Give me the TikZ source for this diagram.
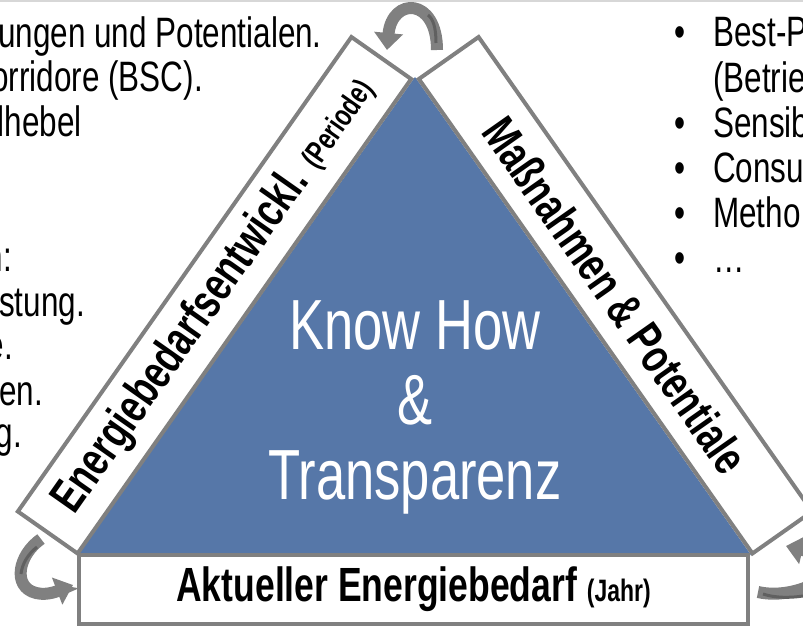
\documentclass[tikz,border=0pt]{standalone}
\usepackage{fontspec}
\setmainfont{Liberation Sans}[FakeStretch=0.74]
\usetikzlibrary{arrows.meta,positioning}
\definecolor{knowblue}{RGB}{86,119,168}
\definecolor{framegray}{RGB}{128,128,128}
\definecolor{arrowshade}{RGB}{96,96,96}
\definecolor{slidegray}{RGB}{215,215,215}
\newcommand{\smallpart}[1]{{\fontsize{31}{32}\selectfont #1}}

\begin{document}
\begin{tikzpicture}[x=1pt,y=1pt,
    band/.style={draw=framegray,line width=4pt,fill=white,minimum width=580pt,minimum height=73pt,inner sep=0pt,font=\bfseries\fontsize{48}{54}\selectfont},
    sidetext/.style={inner sep=0pt,font=\fontsize{42.5}{45}\selectfont},
    curl/.style={draw=framegray,line width=12pt,-{Triangle[length=17pt,width=28pt]}},
    curlshade/.style={draw=arrowshade,line width=3pt}]
                \useasboundingbox (0,0) rectangle (803,627);
                \draw[slidegray,line width=2pt] (0,626) -- (803,626);
                % triangle
                \coordinate (bl) at (78,72);
                \coordinate (br) at (751,72);
                \coordinate (apex) at (415,550);
                \fill[knowblue] (bl) -- (apex) -- (br) -- cycle;
                \node[band,rotate=54.89] (trend) at (214.5,331.75) {Energiebedarfsentwickl. \smallpart{(Periode)}};
                \node[band,rotate=-54.89] (measures) at (615.5,331.75) {Maßnahmen \& Potentiale};
                \node[band,minimum width=669pt,minimum height=69pt] (current) at (413.5,37.5) {Aktueller Energiebedarf \smallpart{(Jahr)}};
                \node[align=center,inner sep=0pt,text=white,font=\fontsize{71}{75}\selectfont] (core) at (415,220) {Know How\\\&\\Transparenz};
                % curved arrows
                \coordinate (topstart) at (437,577);
                \coordinate (topend) at (387,577);
                \coordinate (leftstart) at (41,88);
                \coordinate (leftend) at (73,42);
                \coordinate (rightstart) at (758,35);
                \coordinate (rightend) at (786,81);
                \draw[curl] (topstart) .. controls (437,630) and (392,630) .. (topend);
                \draw[curlshade] (436,584) .. controls (436,600) and (433,608) .. (428,612);
                \draw[curl] (leftstart) .. controls (18,72) and (12,40) .. (36,34) .. controls (48,31) and (60,37) .. (leftend);
                \draw[curlshade] (37,80) .. controls (28,73) and (22,63) .. (21,53);
                \draw[curl] (rightstart) .. controls (800,25) and (865,62) .. (rightend);
                \draw[curlshade] (763,33) .. controls (775,29) and (790,29) .. (803,31);
                % left text
                \node[sidetext,anchor=base east] (l1) at (322,579) {ungen und Potentialen.};
                \node[sidetext,anchor=base east] (l2) at (203,535) {orridore (BSC).};
                \node[sidetext,anchor=base east] (l3) at (82,490) {lhebel};
                \node[sidetext,anchor=base east] (l4) at (12,355) {n:};
                \node[sidetext,anchor=base east] (l5) at (85,310) {stung.};
                \node[sidetext,anchor=base east] (l6) at (13,267) {e.};
                \node[sidetext,anchor=base east] (l7) at (43,222) {en.};
                \node[sidetext,anchor=base east] (l8) at (22,179) {g.};
                % right text
                \node[sidetext,anchor=base west] (r1) at (713,580) {Best-P};
                \node[sidetext,anchor=base west] (r2) at (713,534) {(Betrie};
                \node[sidetext,anchor=base west] (r3) at (713,489) {Sensib};
                \node[sidetext,anchor=base west] (r4) at (713,444) {Consu};
                \node[sidetext,anchor=base west] (r5) at (713,399) {Metho};
                \node[sidetext,anchor=base west] (r6) at (713,354) {…};
                \node[sidetext,anchor=base] (b1) at ([xshift=-33pt]r1.base west) {•};
                \node[sidetext,anchor=base] (b3) at ([xshift=-33pt]r3.base west) {•};
                \node[sidetext,anchor=base] (b4) at ([xshift=-33pt]r4.base west) {•};
                \node[sidetext,anchor=base] (b5) at ([xshift=-33pt]r5.base west) {•};
                \node[sidetext,anchor=base] (b6) at ([xshift=-33pt]r6.base west) {•};
            \end{tikzpicture}
\end{document}
